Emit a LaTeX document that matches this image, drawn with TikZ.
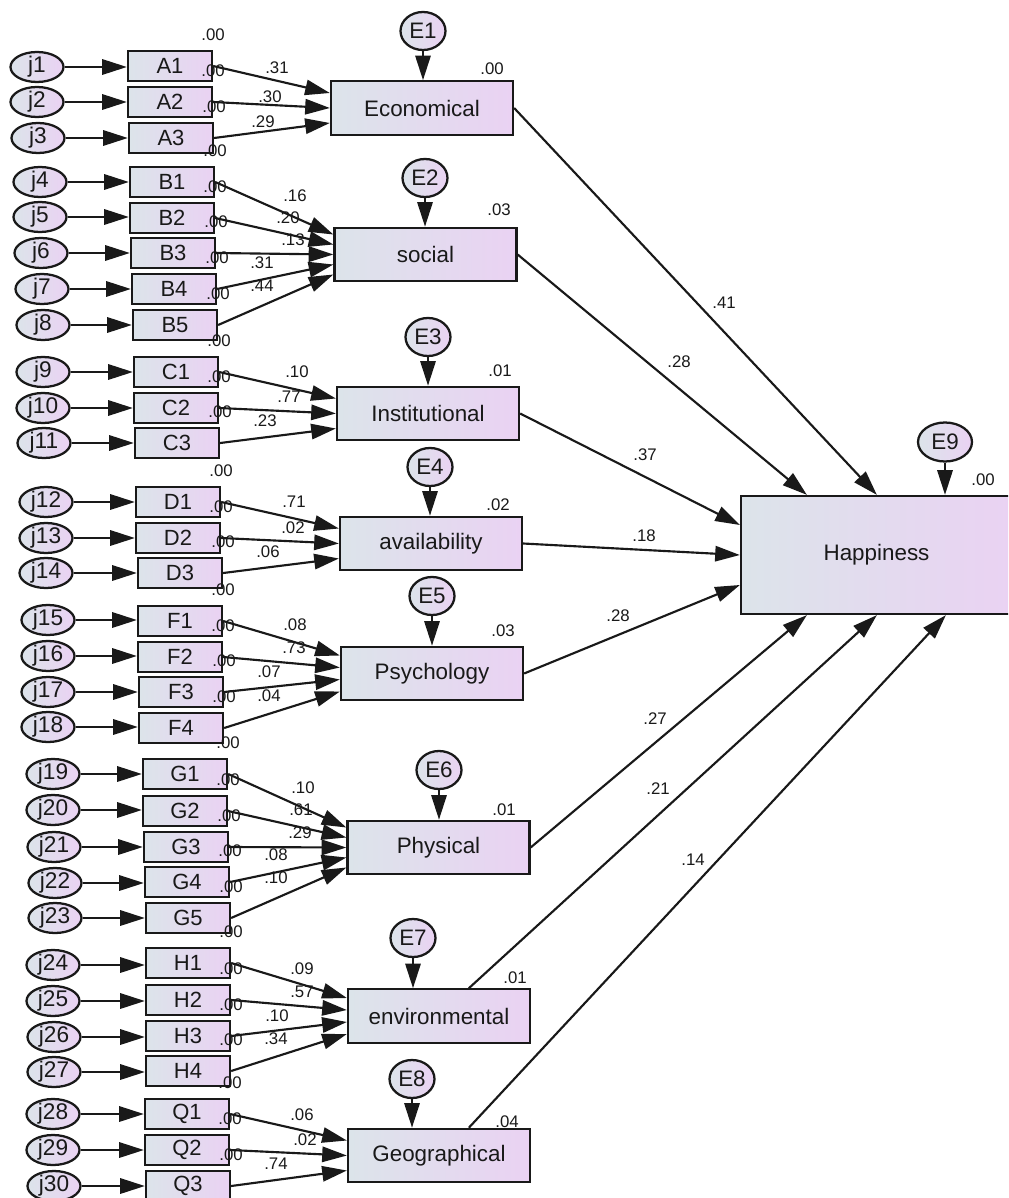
\documentclass[tikz,border=0pt]{standalone}
\usepackage{fontspec}
\setmainfont{Liberation Sans}
\usetikzlibrary{arrows.meta,calc,shapes.geometric}
\definecolor{gl}{RGB}{220,228,234}
\definecolor{gr}{RGB}{234,210,243}
\tikzset{
  base/.style={draw=black!90, line width=1.7pt, left color=gl, right color=gr, inner sep=0pt, text=black!90},
  obs/.style={base, rectangle, minimum width=63pt, minimum height=22.5pt, font=\fontsize{16.5}{18}\selectfont},
  lat/.style={base, rectangle, minimum width=136.5pt, minimum height=40pt, font=\fontsize{16.8}{19}\selectfont},
  jerr/.style={base, ellipse, minimum width=39.75pt, minimum height=22.5pt, font=\fontsize{17}{18}\selectfont},
  eerr/.style={base, ellipse, minimum width=33.75pt, minimum height=28.5pt, font=\fontsize{16.8}{18}\selectfont},
  num/.style={inner sep=0pt, text=black!90, font=\fontsize{12.6}{14}\selectfont},
  arr/.style={line width=1.6pt, draw=black!90, -{Triangle[length=18.5pt,width=11.5pt]}},
}
\begin{document}
\begin{tikzpicture}[x=0.75pt,y=-0.75pt]
\useasboundingbox (0,0) rectangle (1008,1198);
\clip (0,0) rectangle (1008,1198);
% observed boxes
\foreach \n/\x/\y in {A1/170/66,A2/170/102,A3/171/138,
  B1/172/182,B2/172/218,B3/173/253,B4/174/289,B5/175/325,
  C1/176/372,C2/176/408,C3/177/443,
  D1/178/502,D2/178/538,D3/180/573,
  F1/180/621,F2/180/657,F3/181/692,F4/181/728,
  G1/185/774,G2/185/811,G3/186/847,G4/187/882,G5/188/918,
  H1/188/963,H2/188/1000,H3/188/1036,H4/188/1071,
  Q1/187/1114,Q2/187/1150,Q3/188/1186}
  {\node[obs] (\n) at (\x,\y) {\n};}
% j error ellipses
\foreach \i/\x/\y in {1/37/67,2/37/102,3/38/138,
  4/40/182,5/40/217,6/41/253,7/42/289,8/43/325,
  9/43/372,10/43/408,11/44/443,
  12/46/502,13/46/538,14/46/573,
  15/48/620,16/48/656,17/48/692,18/48/727,
  19/53/774,20/53/810,21/54/847,22/55/883,23/55/918,
  24/53/965,25/53/1001,26/54/1037,27/54/1072,
  28/53/1114,29/53/1150,30/54/1186}
  {\node[jerr] (j\i) at (\x,\y) {j\i};}
% latent boxes
\node[lat] (eco) at (422,108) {Economical};
\node[lat] (soc) at (425.5,254.5) {social};
\node[lat] (ins) at (428,413.5) {Institutional};
\node[lat] (ava) at (431,543.5) {availability};
\node[lat] (psy) at (432,673.5) {Psychology};
\node[lat] (phy) at (438.5,847.5) {Physical};
\node[lat] (env) at (439,1016) {environmental};
\node[lat] (geo) at (439,1155.5) {Geographical};
\node[lat, minimum width=203.25pt, minimum height=88.5pt] (hap) at (876.5,555) {Happiness};
% E errors
\node[eerr] (E1) at (423,31) {E1};
\node[eerr] (E2) at (425,178) {E2};
\node[eerr] (E3) at (428,337) {E3};
\node[eerr] (E4) at (430,467) {E4};
\node[eerr] (E5) at (432,596) {E5};
\node[eerr] (E6) at (439,770) {E6};
\node[eerr] (E7) at (413,938) {E7};
\node[eerr] (E8) at (412,1079) {E8};
\node[eerr, minimum width=40.5pt, minimum height=29.25pt] (E9) at (945,442) {E9};
% j -> observed
\foreach \i/\b in {1/A1,2/A2,3/A3,4/B1,5/B2,6/B3,7/B4,8/B5,9/C1,10/C2,11/C3,
  12/D1,13/D2,14/D3,15/F1,16/F2,17/F3,18/F4,19/G1,20/G2,21/G3,22/G4,23/G5,
  24/H1,25/H2,26/H3,27/H4,28/Q1,29/Q2,30/Q3}
  {\draw[arr] (j\i.east) -- (j\i.east -| \b.west);}
% observed -> latent
\foreach \b/\t/\o in {A1/eco/-15,A2/eco/0,A3/eco/15,
  B1/soc/-20,B2/soc/-10,B3/soc/0,B4/soc/10,B5/soc/20,
  C1/ins/-15,C2/ins/0,C3/ins/15,
  D1/ava/-15,D2/ava/0,D3/ava/15,
  F1/psy/-18,F2/psy/-6,F3/psy/6,F4/psy/18,
  G1/phy/-20,G2/phy/-10,G3/phy/0,G4/phy/10,G5/phy/20,
  H1/env/-18,H2/env/-6,H3/env/6,H4/env/18,
  Q1/geo/-15,Q2/geo/0,Q3/geo/15}
  {\draw[arr] (\b.east) -- ($(\t.west)+(0,\o)$);}
% E -> latent
\foreach \e/\t in {E1/eco,E2/soc,E3/ins,E4/ava,E5/psy,E6/phy,E7/env,E8/geo,E9/hap}
  {\draw[arr] (\e.south) -- (\e.south |- \t.north);}
% structural paths
\draw[arr] (eco.east) -- ($(hap.north west)+(137,0)$);
\draw[arr] (soc.east) -- ($(hap.north west)+(67,0)$);
\draw[arr] (ins.east) -- ($(hap.west)+(0,-30)$);
\draw[arr] (ava.east) -- (hap.west);
\draw[arr] (psy.east) -- ($(hap.west)+(0,30)$);
\draw[arr] (phy.east) -- ($(hap.south west)+(67,0)$);
\draw[arr] ($(env.north west)+(122,0)$) -- ($(hap.south west)+(137,0)$);
\draw[arr] ($(geo.north west)+(122,0)$) -- ($(hap.south west)+(206,0)$);
% R2 of observed
\foreach \b in {A1,A2,A3,B1,B2,B3,B4,B5,C1,C2,C3,D1,D2,D3,F1,F2,F3,F4,
  G1,G2,G3,G4,G5,H1,H2,H3,H4,Q1,Q2,Q3}
  {\node[num] (r\b) at ($(\b.north east)+(0,-15)$) {.00};}
% R2 of latent
\node[num] (reco) at (492,69) {.00};
\node[num] (rsoc) at (499,210) {.03};
\node[num] (rins) at (500,371) {.01};
\node[num] (rava) at (498,505) {.02};
\node[num] (rpsy) at (503,631) {.03};
\node[num] (rphy) at (504,810) {.01};
\node[num] (renv) at (515,978) {.01};
\node[num] (rgeo) at (507,1122) {.04};
\node[num] (rhap) at (983,480) {.00};
% coefficients
\foreach \k/\x/\y/\v in {1/277/68/.31,2/270/97/.30,3/263/122/.29,
  4/295/196/.16,5/288/218/.20,6/293/240/.13,7/262/263/.31,8/262/286/.44,
  9/297/372/.10,10/289/397/.77,11/265/421/.23,
  12/294/502/.71,13/293/528/.02,14/268/552/.06,
  15/295/625/.08,16/294/648/.73,17/269/672/.07,18/269/696/.04,
  19/303/788/.10,20/301/810/.61,21/300/833/.29,22/276/855/.08,23/276/878/.10,
  24/302/969/.09,25/302/992/.57,26/277/1016/.10,27/276/1039/.34,
  28/302/1115/.06,29/305/1140/.02,30/276/1164/.74,
  31/724/303/.41,32/679/362/.28,33/645/455/.37,34/644/536/.18,
  35/618/616/.28,36/655/719/.27,37/658/789/.21,38/693/860/.14}
  {\node[num] (c\k) at (\x,\y) {\v};}
\end{tikzpicture}
\end{document}
